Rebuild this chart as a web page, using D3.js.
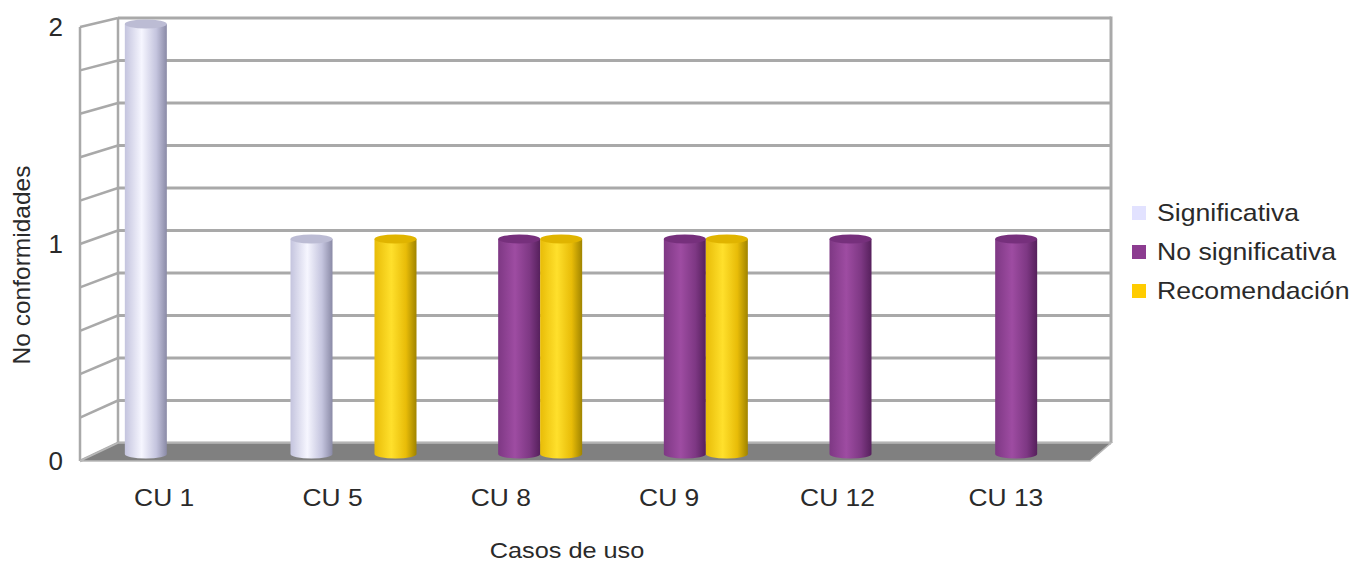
<!DOCTYPE html>
<html>
<head>
<meta charset="utf-8">
<script src="https://cdn.jsdelivr.net/npm/d3@7/dist/d3.min.js"></script>
<style>
    body { margin: 0; background: #fff; }
    text { font-family: "Liberation Sans", Arial, sans-serif; fill: #2a2a2a; }
    .grid { stroke: #a9a9a9; stroke-width: 3; fill: none; }
    .side { stroke: #a9a9a9; stroke-width: 2.5; fill: none; }
</style>
</head>
<body>
<div id="chart"></div>
<script>
var categories = ["CU 1", "CU 5", "CU 8", "CU 9", "CU 12", "CU 13"];
var series = ["Significativa", "No significativa", "Recomendación"];
var significativa   = [2, 1, 0, 0, 0, 0];
var noSignificativa = [0, 0, 1, 1, 1, 1];
var recomendacion   = [0, 1, 1, 1, 0, 0];
var yTicks = [0, 1, 2];

var values = [significativa, noSignificativa, recomendacion];
var colors = [
    { swatch: "#e2e2ff", l: "#c4c4de", m: "#f6f6ff", r: "#8a8aa6", top: "#bcbcd4" },
    { swatch: "#8c3c90", l: "#7e3884", m: "#9e4ca2", r: "#56205c", top: "#76307c" },
    { swatch: "#ffcc00", l: "#e8bc08", m: "#ffe02c", r: "#a08400", top: "#e0b400" }
];

var W = 1368, H = 561;
var svg = d3.select("#chart").append("svg").attr("width", W).attr("height", H);

// scales: front edge, back wall, bars (mid depth)
var yFront = d3.scaleLinear().domain([0, 2]).range([461, 27]);
var yBack = d3.scaleLinear().domain([0, 2]).range([443, 18]);
var yBar = d3.scaleLinear().domain([0, 2]).range([454, 24]);
var xFront = d3.scaleBand().domain(categories).range([80, 1090]);
var xBar = d3.scaleBand().domain(categories).range([105, 1099]);
var xSeries = d3.scaleBand().domain(series).range([0, 126]);
var backL = 118, backR = 1111, frontL = 80;

var gridVals = d3.range(0, 2.0001, 0.2);

// gradients for cylinders
var defs = svg.append("defs");
colors.forEach(function (c, i) {
    var g = defs.append("linearGradient").attr("id", "cyl" + i)
        .attr("x1", "0%").attr("x2", "100%").attr("y1", "0%").attr("y2", "0%");
    g.append("stop").attr("offset", "0%").attr("stop-color", c.l);
    g.append("stop").attr("offset", "40%").attr("stop-color", c.m);
    g.append("stop").attr("offset", "75%").attr("stop-color", c.l);
    g.append("stop").attr("offset", "100%").attr("stop-color", c.r);
});

// back wall grid
svg.selectAll(".grid-line")
    .data(gridVals)
    .enter().append("line")
    .attr("class", "grid")
    .attr("x1", backL).attr("x2", backR)
    .attr("y1", function (d) { return yBack(d); })
    .attr("y2", function (d) { return yBack(d); });

svg.append("line").attr("class", "grid")
    .attr("x1", backR).attr("x2", backR)
    .attr("y1", yBack(2) - 1.5).attr("y2", yBack(0));
svg.append("line").attr("class", "side")
    .attr("x1", backL).attr("x2", backL)
    .attr("y1", yBack(2)).attr("y2", yBack(0));

// side wall
svg.append("line").attr("class", "side")
    .attr("x1", frontL).attr("x2", frontL)
    .attr("y1", yFront(2)).attr("y2", yFront(0));
svg.selectAll(".side-line")
    .data(gridVals)
    .enter().append("line")
    .attr("class", "side")
    .attr("x1", frontL).attr("x2", backL)
    .attr("y1", function (d) { return yFront(d); })
    .attr("y2", function (d) { return yBack(d); });

// floor
svg.append("polygon")
    .attr("points", [[frontL, yFront(0)], [backL, yBack(0)], [backR, yBack(0)], [1090, yFront(0)]].join(" "))
    .attr("fill", "#808080")
    .attr("stroke", "#b8b8b8")
    .attr("stroke-width", 1.5);

// bars as cylinders
var bw = xSeries.bandwidth(), ry = 4.5;
var barData = [];
categories.forEach(function (cat, ci) {
    series.forEach(function (s, si) {
        if (values[si][ci] > 0) barData.push({ cat: cat, s: s, si: si, v: values[si][ci] });
    });
});

var bars = svg.selectAll(".bar")
    .data(barData)
    .enter().append("g")
    .attr("class", "bar")
    .attr("transform", function (d) {
        return "translate(" + (xBar(d.cat) + (xBar.bandwidth() - 126) / 2 + xSeries(d.s)) + ",0)";
    });

bars.append("path")
    .attr("d", function (d) {
        var y0 = yBar(0), y1 = yBar(d.v);
        return "M0," + y1 + "L0," + y0 +
            "A" + bw / 2 + "," + ry + " 0 0 0 " + bw + "," + y0 +
            "L" + bw + "," + y1 + "Z";
    })
    .attr("fill", function (d) { return "url(#cyl" + d.si + ")"; });

bars.append("ellipse")
    .attr("cx", bw / 2)
    .attr("cy", function (d) { return yBar(d.v); })
    .attr("rx", bw / 2)
    .attr("ry", ry)
    .attr("fill", function (d) { return colors[d.si].top; });

// y tick labels
svg.selectAll(".ytick")
    .data(yTicks)
    .enter().append("text")
    .attr("class", "ytick")
    .attr("x", 63)
    .attr("y", function (d) { return yFront(d); })
    .attr("dy", "0.35em")
    .attr("text-anchor", "end")
    .style("font-size", "26px")
    .text(function (d) { return d; });

// category labels
svg.selectAll(".xlabel")
    .data(categories)
    .enter().append("text")
    .attr("class", "xlabel")
    .attr("transform", function (d) {
        return "translate(" + (xFront(d) + xFront.bandwidth() / 2) + ",498) scale(1.1,1)";
    })
    .attr("dy", "0.35em")
    .attr("text-anchor", "middle")
    .style("font-size", "24px")
    .text(function (d) { return d; });

// axis titles
svg.append("text")
    .attr("transform", "translate(567,550) scale(1.15,1)")
    .attr("dy", "0.35em")
    .attr("text-anchor", "middle")
    .style("font-size", "22px")
    .text("Casos de uso");

svg.append("text")
    .attr("transform", "translate(21,265) rotate(-90)")
    .attr("dy", "0.35em")
    .attr("text-anchor", "middle")
    .style("font-size", "24.5px")
    .text("No conformidades");

// legend
var legend = svg.selectAll(".legend")
    .data(series)
    .enter().append("g")
    .attr("class", "legend")
    .attr("transform", function (d, i) { return "translate(1132," + (213 + i * 39) + ")"; });

legend.append("rect")
    .attr("x", 0).attr("y", -7)
    .attr("width", 14).attr("height", 14)
    .attr("fill", function (d, i) { return colors[i].swatch; });

legend.append("text")
    .attr("transform", "translate(25,0) scale(1.11,1)")
    .attr("dy", "0.35em")
    .style("font-size", "24px")
    .text(function (d) { return d; });
</script>
</body>
</html>
